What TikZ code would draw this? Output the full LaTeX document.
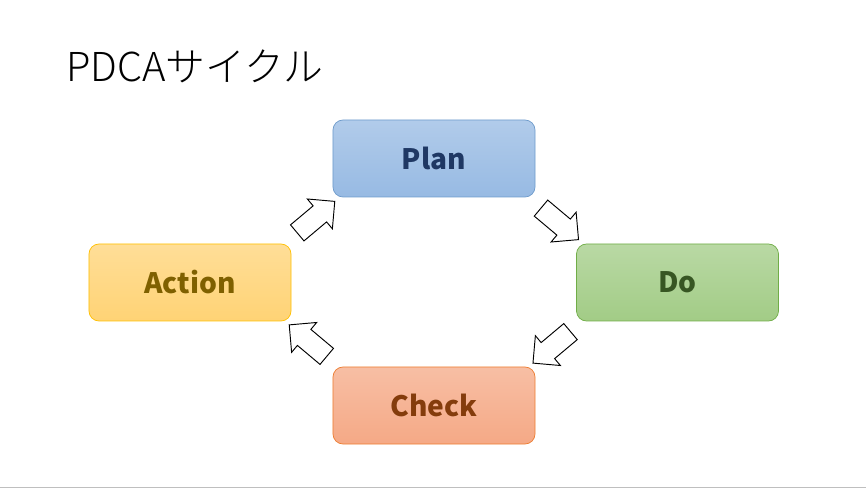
\documentclass[tikz,border=0pt]{standalone}
\usepackage{fontspec}
\setmainfont{Noto Sans CJK JP}
\newfontfamily\titlefont{Noto Sans CJK JP}[UprightFont={* Light}]
\usetikzlibrary{calc, shapes.arrows}

\definecolor{planfill}{HTML}{97BAE3}
\definecolor{planline}{HTML}{6E9BCB}
\definecolor{plantext}{HTML}{1F3864}
\definecolor{dofill}{HTML}{A2CC86}
\definecolor{doline}{HTML}{70AD47}
\definecolor{dotext}{HTML}{375623}
\definecolor{actfill}{HTML}{FFD375}
\definecolor{actline}{HTML}{FFC000}
\definecolor{acttext}{HTML}{7F6000}
\definecolor{chkfill}{HTML}{F5A986}
\definecolor{chkline}{HTML}{ED7D31}
\definecolor{chktext}{HTML}{843C0C}

\begin{document}
\begin{tikzpicture}[x=0.03cm, y=-0.03cm,
    phase/.style={draw=#1line, rounded corners=0.3cm, line width=0.6pt,
        top color=#1fill!75!white, bottom color=#1fill,
        minimum width=6.06cm, minimum height=2.31cm,
        font=\fontsize{24}{28}\selectfont\bfseries, text=#1text},
    turn/.style={draw, thick, fill=white, single arrow, inner xsep=0pt, inner ysep=0.3cm,
        minimum height=1.47cm, single arrow head extend=0.27cm}]
        \useasboundingbox (0,0) rectangle (866,489);

        % Title
        \node[anchor=base west, font=\titlefont\fontsize{34}{40}\selectfont, inner sep=0pt] (title) at (66,82) {PDCAサイクル};

        % The four phases
        \node[phase=plan] (plan) at (434,158.5) {Plan};
        \node[phase=do] (do) at (677.5,282.5) {Do};
        \node[phase=chk] (check) at (434,405.5) {Check};
        \node[phase=act] (action) at (190,282.5) {Action};

        % Block arrows between the phases
        \node[turn, rotate=-40] (p-d) at ($(plan.south east)!0.5!(do.north west)$) {};
        \node[turn, rotate=-140] (d-c) at ($(do.south west)!0.5!(check.north east)$) {};
        \node[turn, rotate=140] (c-a) at ($(check.north west)!0.5!(action.south east)$) {};
        \node[turn, rotate=40] (a-p) at ($(action.north east)!0.5!(plan.south west)$) {};

        % Line along the bottom
        \coordinate (base-l) at (0,487.5);
        \coordinate (base-r) at (866,487.5);
        \draw[gray!50, line width=0.8pt] (base-l) -- (base-r);
    \end{tikzpicture}
\end{document}
